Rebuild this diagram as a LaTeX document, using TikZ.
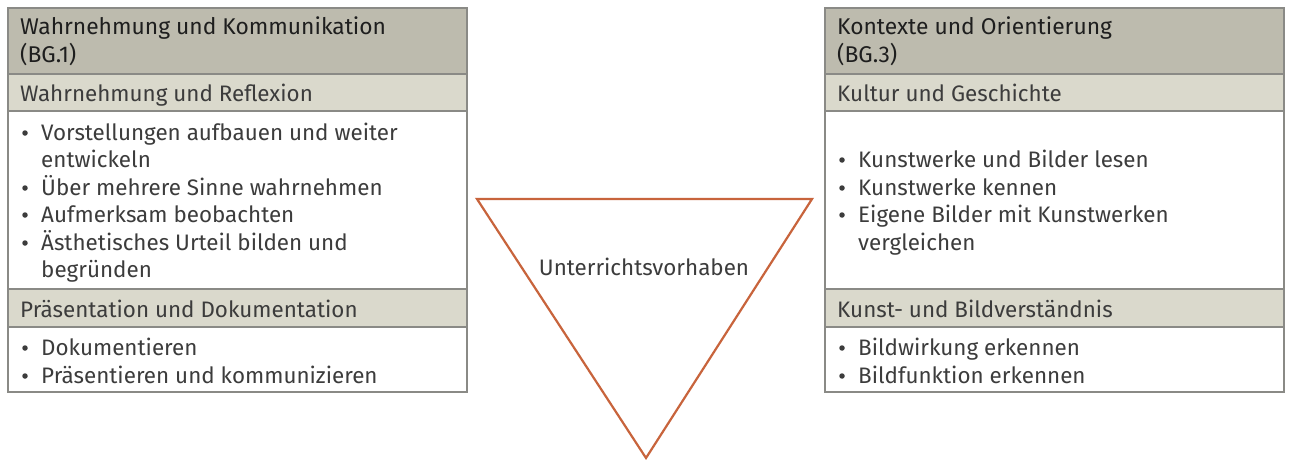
\documentclass[tikz,border=0pt]{standalone}
\usepackage{fontspec}
\setmainfont{Fira Sans}
\definecolor{hdark}{HTML}{BDBBAE}
\definecolor{hlight}{HTML}{DAD9CC}
\definecolor{framegray}{HTML}{8A8A86}
\definecolor{trianglered}{HTML}{C8643C}
\definecolor{bodytext}{HTML}{3C3C3C}
\definecolor{headtext}{HTML}{1E1E1E}

\tikzset{
  band/.style={draw=framegray, line width=1.2pt, fill=#1, anchor=north west,
               inner sep=0pt, outer sep=0pt, minimum width=459pt},
  headline/.style={anchor=base west, inner sep=0pt, text=headtext,
                   font=\fontsize{22.8}{27}\selectfont},
  bodyline/.style={anchor=base west, inner sep=0pt, text=bodytext,
                   font=\fontsize{22.4}{27}\selectfont},
  dot/.style={circle, fill=bodytext, inner sep=0pt, minimum size=5.5pt},
  wedge/.style={draw=trianglered, line width=2.2pt, line join=miter},
}

\begin{document}
\begin{tikzpicture}[x=1pt, y=-1pt]
\useasboundingbox[fill=white] (0,0) rectangle (1290,460);

% ---------- left block: Wahrnehmung und Kommunikation ----------
\node[band=white,  minimum height=384pt] (lframe) at (8,8) {};
\node[band=hdark,  minimum height=66pt]  (lhead)  at (8,8) {};
\node[band=hlight, minimum height=37pt]  (lsubA)  at (8,74) {};
\node[band=hlight, minimum height=38pt]  (lsubB)  at (8,289) {};

\node[headline] (lh1) at (20,35) {Wahrnehmung und Kommunikation};
\node[headline] (lh2) at (20,63) {(BG.1)};
\node[bodyline] (ls1) at (20,101) {Wahrnehmung und Reflexion};

\node[dot] (ld1) at (25,133) {}; \node[bodyline] (lt1) at (41,140) {Vorstellungen aufbauen und weiter};
                                 \node[bodyline] (lt1b) at (41,167) {entwickeln};
\node[dot] (ld2) at (25,188) {}; \node[bodyline] (lt2) at (41,195) {Über mehrere Sinne wahrnehmen};
\node[dot] (ld3) at (25,215) {}; \node[bodyline] (lt3) at (41,222) {Aufmerksam beobachten};
\node[dot] (ld4) at (25,243) {}; \node[bodyline] (lt4) at (41,250) {Ästhetisches Urteil bilden und};
                                 \node[bodyline] (lt4b) at (41,277) {begründen};

\node[bodyline] (ls2) at (20,317) {Präsentation und Dokumentation};
\node[dot] (ld5) at (25,348) {}; \node[bodyline] (lt5) at (41,355) {Dokumentieren};
\node[dot] (ld6) at (25,376) {}; \node[bodyline] (lt6) at (41,383) {Präsentieren und kommunizieren};

% ---------- right block: Kontexte und Orientierung ----------
\node[band=white,  minimum height=384pt] (rframe) at (825,8) {};
\node[band=hdark,  minimum height=66pt]  (rhead)  at (825,8) {};
\node[band=hlight, minimum height=37pt]  (rsubA)  at (825,74) {};
\node[band=hlight, minimum height=38pt]  (rsubB)  at (825,289) {};

\node[headline] (rh1) at (837,35) {Kontexte und Orientierung};
\node[headline] (rh2) at (837,63) {(BG.3)};
\node[bodyline] (rs1) at (837,101) {Kultur und Geschichte};

\node[dot] (rd1) at (842,160) {}; \node[bodyline] (rt1) at (858,167) {Kunstwerke und Bilder lesen};
\node[dot] (rd2) at (842,188) {}; \node[bodyline] (rt2) at (858,195) {Kunstwerke kennen};
\node[dot] (rd3) at (842,215) {}; \node[bodyline] (rt3) at (858,222) {Eigene Bilder mit Kunstwerken};
                                  \node[bodyline] (rt3b) at (858,250) {vergleichen};

\node[bodyline] (rs2) at (837,317) {Kunst- und Bildverständnis};
\node[dot] (rd4) at (842,348) {}; \node[bodyline] (rt4) at (858,355) {Bildwirkung erkennen};
\node[dot] (rd5) at (842,376) {}; \node[bodyline] (rt5) at (858,383) {Bildfunktion erkennen};

% ---------- central downward triangle ----------
\coordinate (tl) at (477,199);
\coordinate (tr) at (812,199);
\coordinate (tb) at (646,458);
\draw[wedge] (tl) -- (tr) -- (tb) -- cycle;
\node[bodyline, anchor=base] (tlabel) at (644,275) {Unterrichtsvorhaben};
\end{tikzpicture}
\end{document}
